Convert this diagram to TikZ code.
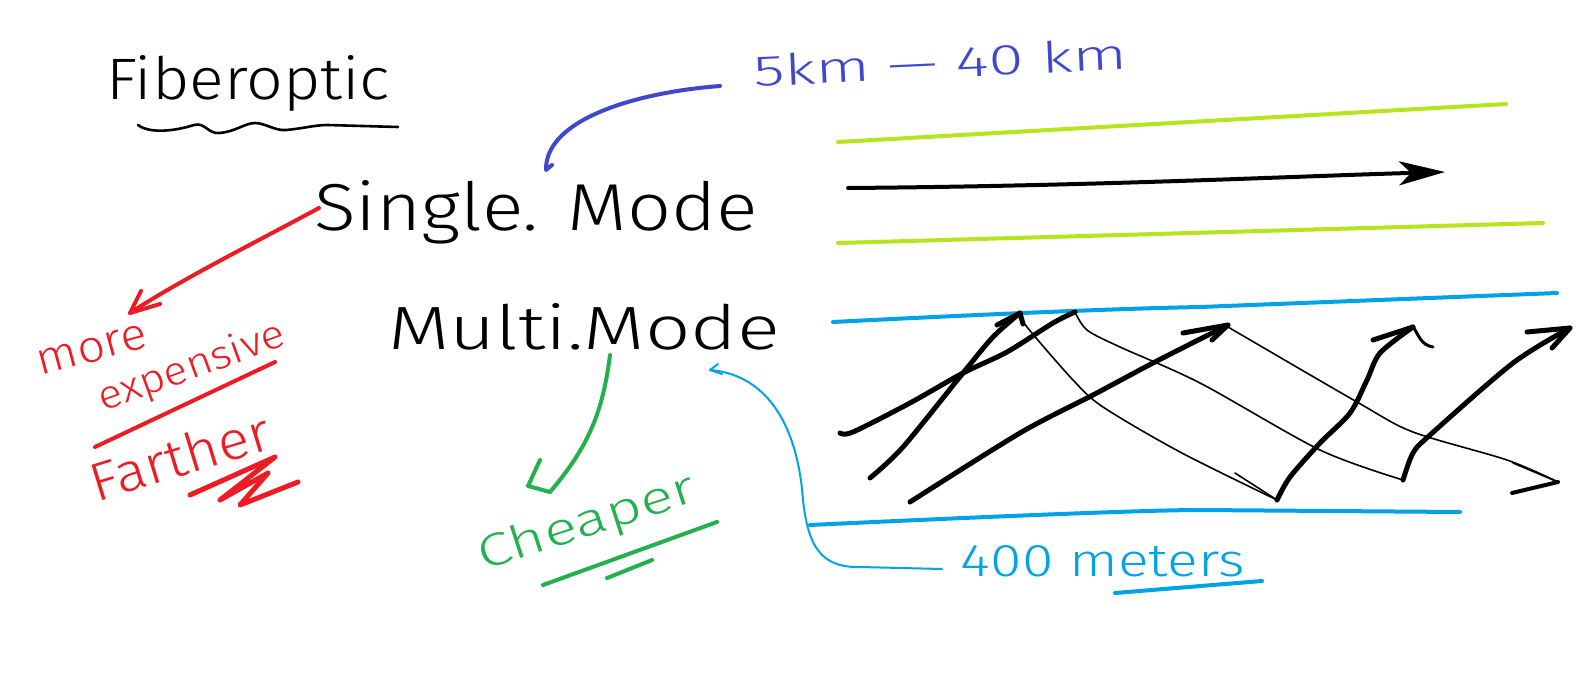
\documentclass[tikz,border=0pt]{standalone}
\usepackage{fontspec}
\setmainfont{Fira Sans}[UprightFont=* Light]
\usetikzlibrary{arrows.meta}
\definecolor{pred}{HTML}{ED1C24}
\definecolor{pgreen}{HTML}{22B14C}
\definecolor{pcyan}{HTML}{00A2E8}
\definecolor{pindigo}{HTML}{3F48CC}
\definecolor{plime}{HTML}{B5E61D}
\newcommand{\hw}[3]{\resizebox{#1pt}{#2pt}{#3}}
\begin{document}
\begin{tikzpicture}[x=1pt,y=-1pt,
  txt/.style={inner sep=0pt,outer sep=0pt},
  pen/.style={line width=4pt,line cap=round,line join=round},
  thick pen/.style={line width=5pt,line cap=round,line join=round,black},
  thin pen/.style={line width=1.6pt,line cap=round,line join=round,black},
  fine pen/.style={line width=2pt,line cap=round,line join=round}]
\useasboundingbox[fill=white] (0,0) rectangle (1587,690);

% ---------- texts ----------
\node[txt,anchor=base west] (fiber) at (106,100) {\hw{284}{44}{Fiberoptic}};
\node[txt,anchor=base west] (single) at (314,230) {\hw{444}{50}{Single. Mode}};
\node[txt,anchor=base west] (multi) at (388,349) {\hw{392}{46}{Multi.Mode}};
\node[txt,anchor=base,pindigo,rotate=2.6] (dist) at (941,78) {\hw{374}{32}{5km --- 40 km}};
\node[txt,anchor=base,pcyan] (meters) at (1103,576) {\hw{284}{31}{400 meters}};
\node[txt,pred,rotate=15] (more) at (92,350) {\hw{112}{24}{more}};
\node[txt,pred,rotate=20] (expensive) at (192,368) {\hw{196}{30}{expensive}};
\node[txt,pred,rotate=17] (farther) at (180,456) {\hw{186}{40}{Farther}};
\node[txt,pgreen,rotate=18] (cheaper) at (587,524) {\hw{226}{34}{Cheaper}};

% ---------- underlines ----------
\draw[line width=2.6pt,line cap=round] (138,125) .. controls (150,134) and (175,131) .. (194,125)
  .. controls (205,122) and (208,134) .. (219,133) .. controls (235,132) and (245,123) .. (255,123)
  .. controls (265,123) and (275,131) .. (286,130) .. controls (300,129) and (315,125) .. (327,125)
  -- (398,127);
\draw[pen,pred] (95,447) -- (275,362);
\draw[pen,pred,line width=5pt] (190,495) -- (275,457) -- (220,500) -- (268,473) -- (240,505) -- (298,482);
\draw[pen,pgreen] (543,585) -- (717,522);
\draw[pen,pgreen] (607,578) -- (652,560);
\draw[pen,pcyan] (1115,593) -- (1262,581);

% ---------- connectors ----------
\coordinate (redtip) at (130,313);
\coordinate (redstart) at (319,208);
\draw[pen,pred] (redstart) .. controls (260,240) and (180,280) .. (redtip);
\draw[pen,pred] (141,291) -- (redtip) -- (160,304);

\coordinate (bluestart) at (720,86);
\coordinate (blueend) at (546,170);
\draw[pen,pindigo] (bluestart) .. controls (640,92) and (545,118) .. (blueend) -- (552,165);

\coordinate (greenstart) at (610,355);
\coordinate (greentip) at (550,492);
\draw[pen,pgreen] (greenstart) .. controls (603,410) and (590,445) .. (greentip);
\draw[pen,pgreen] (540,460) -- (528,486) -- (greentip);

\coordinate (cyantip) at (710,370);
\coordinate (cyanend) at (942,569);
\draw[fine pen,pcyan] (cyantip) .. controls (770,375) and (798,430) .. (803,500)
  .. controls (808,545) and (820,568) .. (860,567) -- (cyanend);
\draw[fine pen,pcyan] (718,364) -- (cyantip) -- (722,374);

% ---------- single mode fibre ----------
\draw[pen,plime] (838,142) -- (1506,104);
\draw[pen,plime] (838,243) -- (1543,223);
\coordinate (sa) at (848,188);
\coordinate (sb) at (1445,172);
\draw[thick pen,line width=4pt,-{Stealth[length=46pt,width=24pt,inset=12pt]}] (sa) .. controls (1100,186) and (1300,176) .. (sb);

% ---------- multi mode fibre ----------
\draw[pen,pcyan] (833,322) .. controls (950,316) and (1100,309) .. (1200,307) -- (1557,293);
\draw[pen,pcyan] (810,525) .. controls (1000,516) and (1150,510) .. (1200,510) -- (1460,512);

% path A
\draw[thick pen] plot[smooth] coordinates {(840,433) (853,432) (910,403) (963,373) (1007,352) (1053,323) (1075,312)};
\draw[thin pen] plot[smooth] coordinates {(1075,312) (1087,330) (1120,347) (1200,383) (1320,450) (1403,480)};
\draw[thick pen] plot[smooth] coordinates {(1403,480) (1413,453) (1430,435) (1513,363) (1570,328)};
\draw[thick pen] (1527,332) -- (1570,328) -- (1552,348);
% path B
\draw[thick pen] plot[smooth] coordinates {(870,478) (903,447) (963,373) (993,337) (1020,313)};
\draw[thick pen] (997,325) -- (1020,313) -- (1023,324);
\draw[thin pen] plot[smooth] coordinates {(1020,313) (1027,327) (1073,380) (1103,407) (1180,452) (1277,500)};
\draw[thin pen] (1235,473) -- (1277,500);
\draw[thick pen] plot[smooth] coordinates {(1277,500) (1290,477) (1320,443) (1350,413) (1367,380) (1380,353) (1413,327)};
\draw[thick pen] (1373,340) -- (1413,327);
\draw[thick pen,line width=3pt] (1413,327) .. controls (1418,333) and (1420,345) .. (1433,347);
% path C
\draw[thick pen] plot[smooth] coordinates {(910,502) (1020,433) (1093,395) (1153,363) (1228,325)};
\draw[thick pen] (1183,333) -- (1228,325) -- (1212,340);
\draw[thin pen] plot[smooth] coordinates {(1228,327) (1357,402) (1413,432) (1507,460) (1558,482)};
\draw[thin pen] (1513,463) -- (1558,482);
\draw[thick pen,line width=4pt] (1558,482) -- (1512,493);
\end{tikzpicture}
\end{document}
